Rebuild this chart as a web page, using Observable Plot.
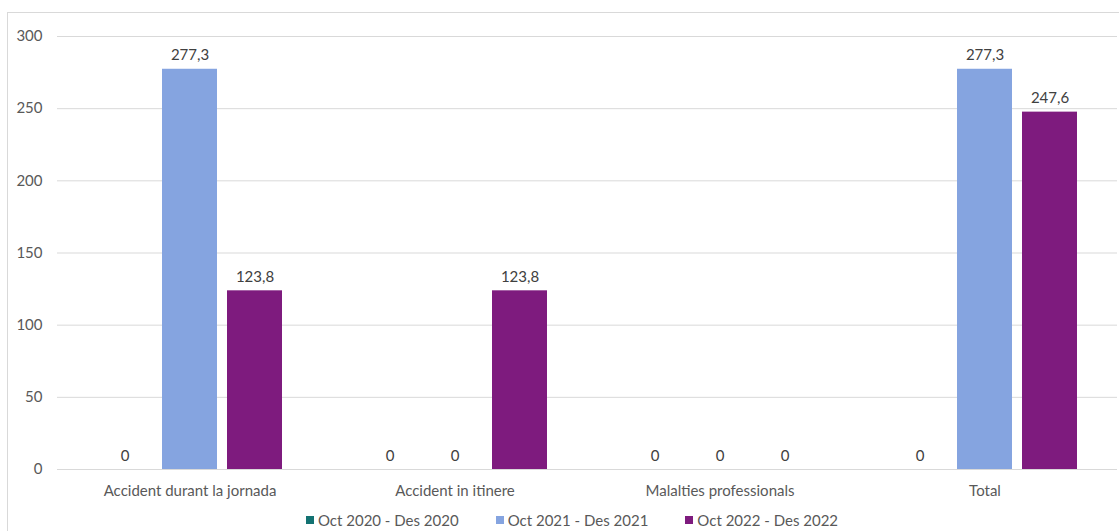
<!DOCTYPE html>
<html>
<head>
<meta charset="utf-8">
<script src="https://cdn.jsdelivr.net/npm/d3@7"></script>
<script src="https://cdn.jsdelivr.net/npm/@observablehq/plot@0.6"></script>
<style>
  html, body { margin: 0; padding: 0; background: #fff; }
  body { width: 1119px; height: 531px; overflow: hidden; position: relative; font-family: Lato, "Open Sans", sans-serif; }
  #frame { position: absolute; left: 7px; top: 12px; width: 1120px; height: 540px; border: 1px solid #d9d9d9; box-sizing: border-box; }
  #chart { position: absolute; left: 0; top: 0; }
  #legend { position: absolute; left: 0; top: 511px; width: 1144px; display: flex; justify-content: center; gap: 37px; font-size: 15px; color: #595959; }
  .item { display: flex; align-items: center; }
  .sw { width: 8px; height: 8px; margin-right: 4px; }
</style>
</head>
<body>
<div id="frame"></div>
<div id="chart"></div>
<div id="legend"></div>
<script>
const categories = ["Accident durant la jornada", "Accident in itinere", "Malalties professionals", "Total"];
const series = ["Oct 2020 - Des 2020", "Oct 2021 - Des 2021", "Oct 2022 - Des 2022"];
const values2020 = [0, 0, 0, 0];
const values2021 = [277.3, 0, 0, 277.3];
const values2022 = [123.8, 123.8, 0, 247.6];
const colors = ["#137272", "#85A4E0", "#7E1B7E"];
const yTicks = [0, 50, 100, 150, 200, 250, 300];

const allValues = [values2020, values2021, values2022];
const data = [];
categories.forEach((c, i) => {
  series.forEach((s, j) => {
    data.push({category: c, series: s, value: allValues[j][i]});
  });
});
const fmt = v => v === 0 ? "0" : v.toFixed(1).replace(".", ",");

const plot = Plot.plot({
  width: 1119,
  height: 505,
  marginLeft: 57,
  marginRight: 2,
  marginTop: 36,
  marginBottom: 36,
  style: {fontFamily: "Lato, 'Open Sans', sans-serif", fontSize: "15px", color: "#595959", background: "transparent"},
  fx: {domain: categories, paddingInner: 0, paddingOuter: 0, axis: "bottom", tickSize: 0, tickPadding: 16, label: null},
  x: {domain: series, paddingInner: 0.154, paddingOuter: 0.615, axis: null},
  y: {domain: [0, 300], ticks: yTicks, tickSize: 0, tickPadding: 15, label: null, tickFormat: d => String(d)},
  color: {domain: series, range: colors},
  marks: [
    Plot.ruleY(yTicks, {stroke: "#d9d9d9", strokeWidth: 1}),
    Plot.barY(data, {fx: "category", x: "series", y: "value", fill: "series"}),
    Plot.text(data, {fx: "category", x: "series", y: "value", text: d => fmt(d.value), lineAnchor: "bottom", dy: -9, fill: "#404040", fontSize: 15})
  ]
});
document.getElementById("chart").appendChild(plot);

const legend = document.getElementById("legend");
series.forEach((s, i) => {
  const item = document.createElement("div");
  item.className = "item";
  const sw = document.createElement("span");
  sw.className = "sw";
  sw.style.background = colors[i];
  const t = document.createElement("span");
  t.textContent = s;
  item.appendChild(sw);
  item.appendChild(t);
  legend.appendChild(item);
});
</script>
</body>
</html>
